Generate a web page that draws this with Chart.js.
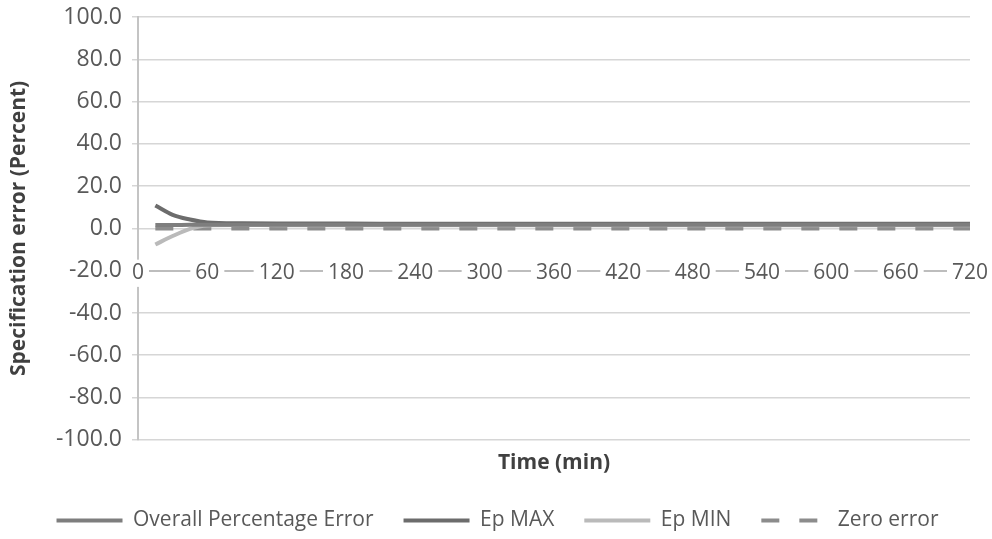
<!DOCTYPE html>
<html>
<head>
<meta charset="utf-8">
<title>Specification error</title>
<script src="https://cdn.jsdelivr.net/npm/chart.js"></script>
<style>
    html, body { margin: 0; padding: 0; background: #fff; }
    #wrap { width: 992px; height: 539px; }
</style>
</head>
<body>
<div id="wrap"><canvas id="errChart" width="992" height="539"></canvas></div>
<script>
        // Data (time in minutes, error in percent)
        const timeMin = [15, 30, 45, 60, 90, 120, 180, 240, 300, 360, 420, 480, 540, 600, 660, 720];
        const overallError = [1.6, 1.6, 1.7, 1.7, 1.7, 1.7, 1.7, 1.7, 1.7, 1.7, 1.7, 1.7, 1.7, 1.7, 1.7, 1.7];
        const epMax = [10.8, 6.4, 4.2, 2.8, 2.4, 2.3, 2.3, 2.2, 2.2, 2.2, 2.2, 2.2, 2.2, 2.2, 2.2, 2.2];
        const epMin = [-7.6, -3.6, -0.2, 1.4, 1.6, 1.5, 1.5, 1.5, 1.5, 1.5, 1.5, 1.5, 1.5, 1.5, 1.5, 1.5];
        const zeroError = [0, 0, 0, 0, 0, 0, 0, 0, 0, 0, 0, 0, 0, 0, 0, 0];

        const seriesNames = ['Overall Percentage Error', 'Ep MAX', 'Ep MIN', 'Zero error'];
        const xTicks = { min: 0, max: 720, step: 60 };
        const yTicks = { min: -100, max: 100, step: 20 };

        function toPoints(values) {
            return values.map((v, i) => ({ x: timeMin[i], y: v }));
        }

        const fontFamily = "'Open Sans', 'Noto Sans', sans-serif";

        const ctx = document.getElementById('errChart').getContext('2d');
        const errChart = new Chart(ctx, {
            type: 'line',
            data: {
                datasets: [{
                    label: seriesNames[0],
                    data: toPoints(overallError),
                    borderColor: '#7e7e7e',
                    borderWidth: 4
                }, {
                    label: seriesNames[1],
                    data: toPoints(epMax),
                    borderColor: '#6c6c6c',
                    borderWidth: 4
                }, {
                    label: seriesNames[2],
                    data: toPoints(epMin),
                    borderColor: '#bababa',
                    borderWidth: 4
                }, {
                    label: seriesNames[3],
                    data: toPoints(zeroError),
                    borderColor: '#8c8c8c',
                    borderWidth: 4,
                    borderDash: [18, 20]
                }]
            },
            options: {
                responsive: false,
                animation: false,
                devicePixelRatio: 1,
                layout: {
                    padding: { left: 25, right: 22, top: 17, bottom: -2 }
                },
                elements: {
                    point: { radius: 0 },
                    line: { tension: 0.4, cubicInterpolationMode: 'monotone', fill: false }
                },
                plugins: {
                    legend: {
                        position: 'bottom',
                        labels: {
                            usePointStyle: true,
                            pointStyle: 'line',
                            pointStyleWidth: 66,
                            padding: 30,
                            color: '#595959',
                            font: { family: fontFamily, size: 21 },
                            // point style legend drops the dash, so copy it from the dataset
                            generateLabels: function(chart) {
                                const items = Chart.defaults.plugins.legend.labels.generateLabels(chart);
                                items.forEach(item => {
                                    item.lineDash = chart.data.datasets[item.datasetIndex].borderDash || [];
                                });
                                return items;
                            }
                        }
                    },
                    tooltip: { enabled: false }
                },
                scales: {
                    x: {
                        type: 'linear',
                        position: { y: -20 },
                        min: xTicks.min,
                        max: xTicks.max,
                        grid: { display: false },
                        border: { display: true, color: '#bdbdbd', width: 2 },
                        ticks: {
                            stepSize: xTicks.step,
                            padding: -18,
                            z: 1,
                            color: '#595959',
                            font: { family: fontFamily, size: 21 },
                            showLabelBackdrop: true,
                            backdropColor: '#ffffff',
                            backdropPadding: { x: 5, y: 1 },
                            maxRotation: 0,
                            autoSkip: false
                        }
                    },
                    xTitle: {
                        type: 'linear',
                        position: 'bottom',
                        grid: { display: false },
                        border: { display: false },
                        ticks: { display: false },
                        title: {
                            display: true,
                            text: 'Time (min)',
                            color: '#404040',
                            padding: { top: 3, bottom: 4 },
                            font: { family: fontFamily, size: 21, weight: 'bold' }
                        }
                    },
                    y: {
                        min: yTicks.min,
                        max: yTicks.max,
                        afterFit: function(scale) {
                            scale.width = 113;
                            // keep the plot top where the reference has it
                            scale.paddingTop = 0;
                            scale.paddingBottom = 0;
                        },
                        grid: { color: '#d6d6d6', lineWidth: 1.5, tickLength: 6 },
                        border: { display: true, color: '#c4c4c4', width: 2 },
                        ticks: {
                            stepSize: yTicks.step,
                            padding: 10,
                            color: '#595959',
                            font: { family: fontFamily, size: 23 },
                            callback: value => value.toFixed(1)
                        },
                        title: {
                            display: true,
                            text: 'Specification error (Percent)',
                            color: '#404040',
                            padding: { top: -19, bottom: 0 },
                            font: { family: fontFamily, size: 21, weight: 'bold' }
                        }
                    }
                }
            }
        });
</script>
</body>
</html>
